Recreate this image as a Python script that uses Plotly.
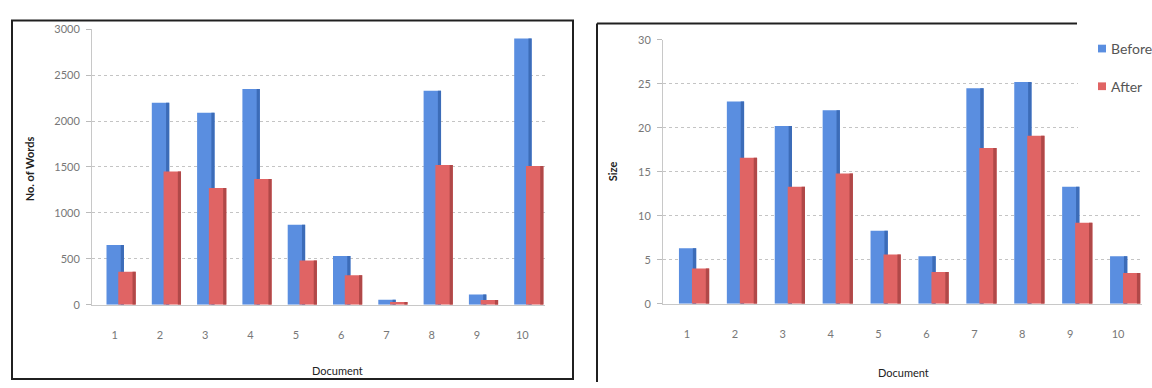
import plotly.graph_objects as go

# Document word counts and sizes before / after processing
documents = ["1", "2", "3", "4", "5", "6", "7", "8", "9", "10"]
words_before = [650, 2200, 2090, 2350, 870, 530, 55, 2330, 110, 2900]
words_after = [360, 1450, 1270, 1370, 480, 320, 30, 1520, 50, 1510]
size_before = [6.3, 23.0, 20.2, 22.0, 8.3, 5.4, 24.5, 25.2, 13.3, 5.4]
size_after = [4.0, 16.6, 13.3, 14.8, 5.6, 3.6, 17.7, 19.1, 9.2, 3.5]
series_names = ["Before", "After"]
y_ticks_words = [0, 500, 1000, 1500, 2000, 2500, 3000]
y_ticks_size = [0, 5, 10, 15, 20, 25, 30]

W, H = 1152, 388
BLUE, BLUE_SIDE = "#5a8ee0", "#3c6cb8"
RED, RED_SIDE = "#e06464", "#b04848"
TICK_FONT = dict(family="Lato", size=11, color="#777777")
TITLE_FONT = dict(family="Lato", size=11, color="#222222")


def px(x):
    return x / W


def py(y):
    return 1 - y / H


fig = go.Figure()


def add_bars(xa, ya, before, after, b_off, r_off, width):
    for vals, off, face, side, name in (
        (before, b_off, BLUE, BLUE_SIDE, series_names[0]),
        (after, r_off, RED, RED_SIDE, series_names[1]),
    ):
        fig.add_trace(go.Bar(
            x=documents, y=vals, name=name, xaxis=xa, yaxis=ya,
            offset=off, width=width, marker=dict(color=face, line_width=0),
        ))
        # darker right-hand face to give the columns some depth
        fig.add_trace(go.Bar(
            x=documents, y=vals, xaxis=xa, yaxis=ya,
            offset=off + width - 0.07, width=0.07,
            marker=dict(color=side, line_width=0), hoverinfo="skip",
        ))


add_bars("x", "y", words_before, words_after, -0.18, 0.08, 0.385)
add_bars("x2", "y2", size_before, size_after, -0.167, 0.104, 0.36)

xaxis_common = dict(
    type="category", showgrid=False, ticks="", tickfont=TICK_FONT,
    showline=True, linecolor="#c8c8c8", linewidth=1, ticklabelstandoff=20,
    range=[-0.5, 9.5], fixedrange=True,
)
yaxis_common = dict(
    showgrid=True, gridcolor="#c4c4c4", griddash="dot", gridwidth=1,
    zeroline=False, ticks="outside", ticklen=5, tickcolor="#bbbbbb",
    tickfont=TICK_FONT, showline=True, linecolor="#c8c8c8", linewidth=1,
    ticklabelstandoff=4, fixedrange=True,
)

fig.update_layout(
    width=W, height=H, margin=dict(l=0, r=0, t=0, b=0),
    paper_bgcolor="white", plot_bgcolor="white",
    barmode="overlay", showlegend=False,
    xaxis=dict(xaxis_common, domain=[px(92), px(545)], anchor="y"),
    yaxis=dict(yaxis_common, domain=[py(308), py(23)], range=[0, 3000],
               tickvals=y_ticks_words, anchor="x"),
    xaxis2=dict(xaxis_common, domain=[px(663), px(1142)], anchor="y2"),
    yaxis2=dict(yaxis_common, domain=[py(307), py(34)], range=[0, 30],
                tickvals=y_ticks_size, anchor="x2"),
)

# axis titles
annots = [
    dict(text="<b>No. of Words</b>", x=px(29), y=py(168), textangle=-90),
    dict(text="<b>Size</b>", x=px(612), y=py(170), textangle=-90),
    dict(text="Document", x=px(337), y=py(376)),
    dict(text="Document", x=px(903), y=py(378)),
]
for a in annots:
    fig.add_annotation(xref="paper", yref="paper", showarrow=False,
                       font=TITLE_FONT, xanchor="center", yanchor="middle", **a)

# legend box at the right edge
fig.add_shape(type="rect", xref="paper", yref="paper", layer="above",
              x0=px(1078), x1=1, y0=py(128), y1=py(20),
              fillcolor="white", line_width=0)
for name, color, yc in ((series_names[0], BLUE, 43), (series_names[1], RED, 82)):
    fig.add_shape(type="rect", xref="paper", yref="paper", layer="above",
                  x0=px(1098), x1=px(1106), y0=py(yc + 4), y1=py(yc - 4),
                  fillcolor=color, line_width=0)
    fig.add_annotation(xref="paper", yref="paper", showarrow=False,
                       x=px(1109), y=py(yc), xanchor="left", yanchor="middle",
                       text=name, font=dict(family="Lato", size=14, color="#555555"))

# chart frames
frame = dict(type="line", xref="paper", yref="paper")
fig.add_shape(type="rect", xref="paper", yref="paper",
              x0=px(12), x1=px(573), y0=py(385), y1=py(14),
              line=dict(color="#202020", width=2))
fig.add_shape(**frame, x0=px(597), x1=px(1077), y0=py(17), y1=py(17),
              line=dict(color="#202020", width=2))
fig.add_shape(**frame, x0=px(597), x1=px(597), y0=py(17), y1=0,
              line=dict(color="#202020", width=2))

fig.write_html("out.html")
